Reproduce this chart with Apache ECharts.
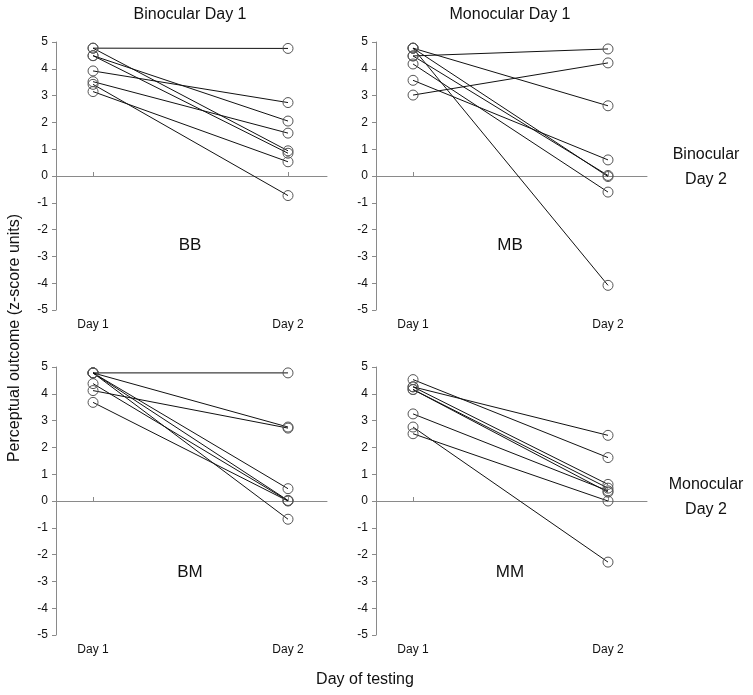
<!DOCTYPE html>
<html>
<head>
<meta charset="utf-8">
<script src="https://cdn.jsdelivr.net/npm/echarts@6/dist/echarts.min.js"></script>
<style>
  html, body { margin: 0; padding: 0; background: #fff; }
  #chart { width: 753px; height: 695px; }
</style>
</head>
<body>
<div id="chart"></div>
<script>
"use strict";

// day labels on the x axis
var dayLabels = ['Day 1', 'Day 2'];

// each subject: day 1 value, day 2 value (same index)
var bbDay1 = [4.77, 4.77, 4.49, 4.49, 3.92, 3.52, 3.42, 3.15];
var bbDay2 = [4.76, 0.94, 2.05, 0.85, 2.74, 1.60, -0.73, 0.53];

var mbDay1 = [4.48, 3.02, 4.77, 4.77, 4.77, 4.48, 4.18, 3.57];
var mbDay2 = [4.74, 4.22, 2.62, -4.08, -0.02, 0.02, -0.60, 0.60];

var bmDay1 = [4.78, 4.78, 4.12, 4.78, 4.78, 4.38, 3.68, 4.78];
var bmDay2 = [4.78, 2.76, 2.72, 0.46, 0.02, 0.01, 0.00, -0.68];

var mmDay1 = [4.53, 4.26, 4.26, 4.16, 4.16, 3.25, 2.76, 2.51];
var mmDay2 = [1.62, 2.45, 0.62, 0.48, 0.33, 0.38, -2.28, 0.00];

var panels = [
  { name: 'BB', d1: bbDay1, d2: bbDay2, left: 56, top: 42 },
  { name: 'MB', d1: mbDay1, d2: mbDay2, left: 376, top: 42 },
  { name: 'BM', d1: bmDay1, d2: bmDay2, left: 56, top: 367 },
  { name: 'MM', d1: mmDay1, d2: mmDay2, left: 376, top: 367 }
];

var axisGray = '#8a8a8a';
var font = 'Liberation Sans, Arial, sans-serif';

var chart = echarts.init(document.getElementById('chart'));

var grids = [], xAxes = [], yAxes = [], series = [];

panels.forEach(function (p, i) {
  grids.push({ left: p.left, top: p.top, width: 271, height: 268 });

  // zero line with small upward ticks
  xAxes.push({
    type: 'value', gridIndex: i, min: 0.81, max: 2.2,
    axisLine: { onZero: true, lineStyle: { color: axisGray, width: 1 } },
    axisTick: { show: true, inside: true, length: 4, customValues: [1, 2], lineStyle: { color: axisGray } },
    axisLabel: { show: false },
    splitLine: { show: false }
  });
  // bottom labels
  xAxes.push({
    type: 'value', gridIndex: i, min: 0.81, max: 2.2, position: 'bottom',
    axisLine: { show: false, onZero: false },
    axisTick: { show: false },
    axisLabel: {
      show: true, customValues: [1, 2], margin: 9,
      fontSize: 12, color: '#111', fontFamily: font,
      formatter: function (v) { return dayLabels[Math.round(v) - 1]; }
    },
    splitLine: { show: false }
  });

  yAxes.push({
    type: 'value', gridIndex: i, min: -5, max: 5, interval: 1,
    axisLine: { show: true, lineStyle: { color: axisGray, width: 1 } },
    axisTick: { show: true, length: 4, lineStyle: { color: axisGray } },
    axisLabel: { fontSize: 12, color: '#111', fontFamily: font, margin: 8 },
    splitLine: { show: false }
  });

  p.d1.forEach(function (v, k) {
    series.push({
      type: 'line',
      xAxisIndex: i * 2,
      yAxisIndex: i,
      data: [[1, v], [2, p.d2[k]]],
      symbol: 'circle',
      symbolSize: 10,
      showSymbol: true,
      lineStyle: { color: '#111', width: 1 },
      itemStyle: { color: 'rgba(255,255,255,0)', borderColor: '#555', borderWidth: 1 },
      emphasis: { disabled: true },
      silent: true,
      animation: false,
      z: 2
    });
  });
});

function txt(x, y, s, size, extra) {
  var o = {
    type: 'text', x: x, y: y,
    style: { text: s, fill: '#111', font: size + 'px ' + font, align: 'center', verticalAlign: 'middle' }
  };
  if (extra) { for (var k in extra) o[k] = extra[k]; }
  return o;
}

var graphics = [
  txt(190, 15, 'Binocular Day 1', 16),
  txt(510, 15, 'Monocular Day 1', 16),
  txt(706, 155, 'Binocular', 16),
  txt(706, 180, 'Day 2', 16),
  txt(706, 485, 'Monocular', 16),
  txt(706, 510, 'Day 2', 16),
  txt(365, 680, 'Day of testing', 16),
  txt(15, 338, 'Perceptual outcome (z-score units)', 16, { rotation: Math.PI / 2 }),
  txt(190, 245, 'BB', 17),
  txt(510, 245, 'MB', 17),
  txt(190, 572, 'BM', 17),
  txt(510, 572, 'MM', 17)
];

var option = {
  backgroundColor: '#ffffff',
  animation: false,
  grid: grids,
  xAxis: xAxes,
  yAxis: yAxes,
  series: series,
  graphic: graphics
};

chart.setOption(option);
</script>
</body>
</html>
